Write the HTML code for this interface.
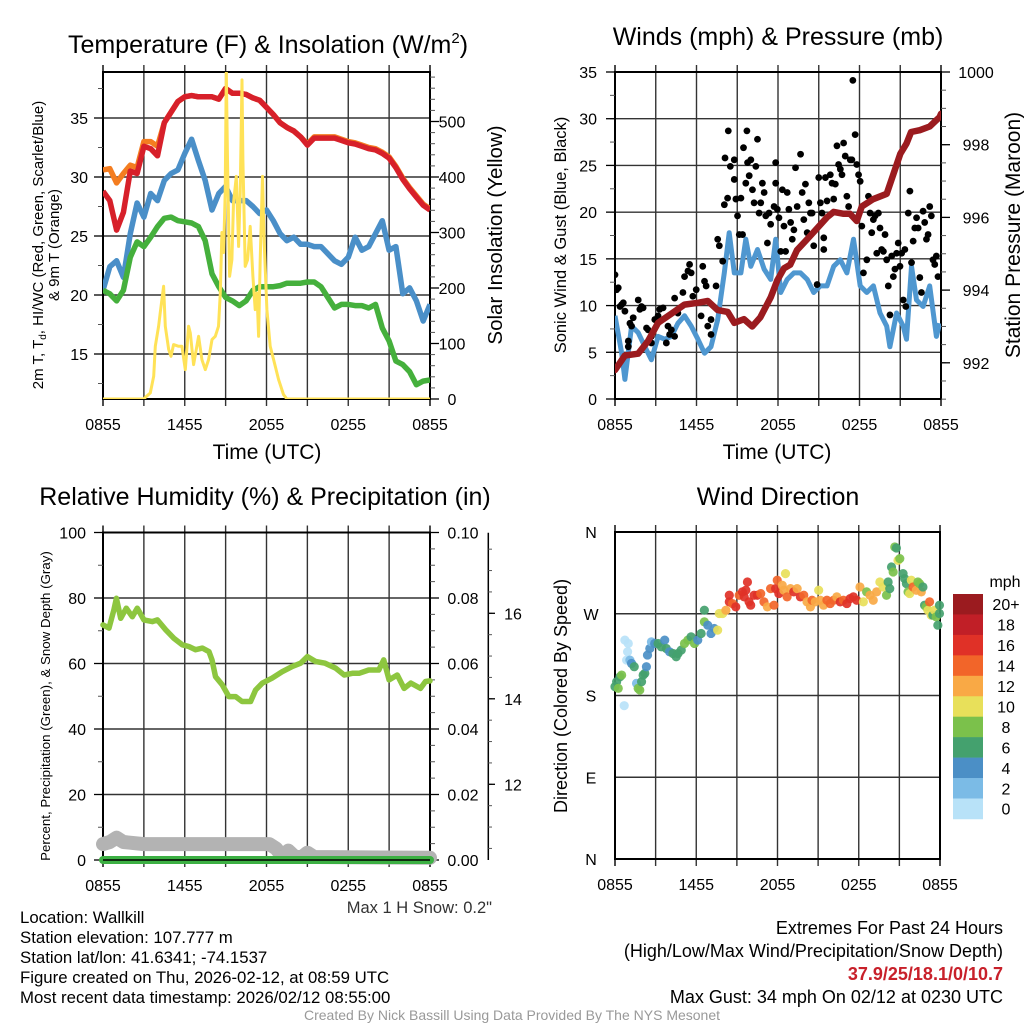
<!DOCTYPE html>
<html><head><meta charset="utf-8"><title>Wallkill Mesonet Meteogram</title>
<style>
html,body{margin:0;padding:0;background:#fff;}
svg{display:block;font-family:"Liberation Sans",Arial,sans-serif;}
</style></head>
<body>
<svg id="chart" width="1024" height="1024" viewBox="0 0 1024 1024" xmlns="http://www.w3.org/2000/svg">
<rect x="0" y="0" width="1024" height="1024" fill="#fff"/>
<defs>
<clipPath id="c1"><rect x="103" y="72" width="327" height="327"/></clipPath>
<clipPath id="c2"><rect x="615" y="72" width="326" height="327"/></clipPath>
<clipPath id="c3"><rect x="95" y="532" width="345" height="335"/></clipPath>
<clipPath id="c4"><rect x="608" y="525" width="340" height="340"/></clipPath>
</defs>
<text x="268" y="53" font-size="25" text-anchor="middle">Temperature (F) &amp; Insolation (W/m<tspan font-size="15" dy="-10">2</tspan><tspan dy="10">)</tspan></text>
<text x="778" y="45" font-size="25" text-anchor="middle">Winds (mph) &amp; Pressure (mb)</text>
<text x="265" y="505" font-size="25" text-anchor="middle">Relative Humidity (%) &amp; Precipitation (in)</text>
<text x="778" y="505" font-size="25" text-anchor="middle">Wind Direction</text>

<text font-size="15" text-anchor="middle" transform="translate(43,245) rotate(-90)">2m T, T<tspan font-size="10" dy="3">d</tspan><tspan dy="-3">, HI/WC (Red, Green, Scarlet/Blue)</tspan></text>
<text font-size="15" text-anchor="middle" transform="translate(59,245) rotate(-90)">&amp; 9m T (Orange)</text>
<text font-size="20.5" text-anchor="middle" transform="translate(502,235) rotate(-90)">Solar Insolation (Yellow)</text>
<text font-size="16.5" text-anchor="middle" transform="translate(566,235) rotate(-90)">Sonic Wind &amp; Gust (Blue, Black)</text>
<text font-size="21" text-anchor="middle" transform="translate(1020,235) rotate(-90)">Station Pressure (Maroon)</text>
<text font-size="13.3" text-anchor="middle" transform="translate(50,706) rotate(-90)">Percent, Precipitation (Green), &amp; Snow Depth (Gray)</text>
<text font-size="18" text-anchor="middle" transform="translate(567,696) rotate(-90)">Direction (Colored By Speed)</text>
<text x="267" y="459" font-size="21" text-anchor="middle">Time (UTC)</text>
<text x="777" y="459" font-size="21" text-anchor="middle">Time (UTC)</text>

<text x="492" y="913" font-size="16.5" text-anchor="end" fill="#333">Max 1 H Snow: 0.2"</text>
<g font-size="16.8" fill="#000">
<text x="20" y="923">Location: Wallkill</text>
<text x="20" y="943">Station elevation: 107.777 m</text>
<text x="20" y="963">Station lat/lon: 41.6341; -74.1537</text>
<text x="20" y="983">Figure created on Thu, 2026-02-12, at 08:59 UTC</text>
<text x="20" y="1003">Most recent data timestamp: 2026/02/12 08:55:00</text>
</g>
<g font-size="18" text-anchor="end">
<text x="1003" y="934">Extremes For Past 24 Hours</text>
<text x="1003" y="957">(High/Low/Max Wind/Precipitation/Snow Depth)</text>
<text x="1003" y="980" fill="#c8202a" font-weight="bold">37.9/25/18.1/0/10.7</text>
<text x="1003" y="1003">Max Gust: 34 mph On 02/12 at 0230 UTC</text>
</g>
<text x="512" y="1020" font-size="14" text-anchor="middle" fill="#999">Created By Nick Bassill Using Data Provided By The NYS Mesonet</text>
<g id="root"></g>
</svg>
<script>
// ---------- data ----------
const xTickHours = [0, 6, 12, 18, 24];
const xTickLabels = ['0855', '1455', '2055', '0255', '0855'];
const tempHours = [0,0.5,1,1.5,2,2.5,3,3.5,4,4.5,5,5.5,6,6.5,7,7.5,8,8.5,9,9.5,10,10.5,11,11.5,12,12.5,13,13.5,14,14.5,15,15.5,16,16.5,17,17.5,18,18.5,19,19.5,20,20.5,21,21.5,22,22.5,23,23.5,24];
const redTemp = [28.8,28.0,25.5,27.0,30.5,30.3,32.6,32.4,31.8,34.6,35.5,36.4,36.8,36.9,36.8,36.8,36.8,36.6,37.5,37.1,37.1,37.0,36.7,36.5,35.9,35.3,34.6,34.2,33.9,33.4,32.7,33.3,33.3,33.3,33.3,33.1,32.9,32.8,32.6,32.4,32.3,32.0,31.6,30.8,29.8,29.0,28.3,27.6,27.2];
const orangeTemp = [30.6,30.7,29.5,30.3,31.0,30.8,33.0,33.0,32.6,34.6,35.5,36.4,36.8,36.9,36.8,36.8,36.8,36.6,37.5,37.1,37.1,37.0,36.7,36.5,35.9,35.3,34.6,34.2,33.9,33.4,32.8,33.4,33.4,33.4,33.4,33.2,33.0,32.9,32.7,32.5,32.4,32.1,31.7,30.9,29.9,29.1,28.4,27.7,27.3];
const blueDew = [20.4,22.4,22.9,21.5,25.2,27.8,26.6,28.6,28.0,29.7,30.3,30.6,32.0,33.2,31.4,29.7,27.2,28.6,29.2,28.0,28.0,28.0,27.5,26.9,27.2,26.3,25.2,24.6,24.9,24.3,24.3,24.1,24.1,23.5,22.9,22.6,23.2,24.9,23.8,24.1,25.2,26.3,23.8,24.1,20.1,20.6,19.5,17.8,19.2];
const greenTemp = [20.4,20.1,19.5,20.4,23.2,24.5,24.1,24.9,25.8,26.5,26.6,26.3,26.2,26.1,25.8,24.6,21.8,20.7,19.8,19.5,19.1,19.5,20.4,20.7,20.7,20.7,20.8,21.0,21.0,21.0,21.1,21.1,20.7,19.8,18.9,19.2,19.2,19.1,19.1,18.9,19.2,17.2,16.1,14.4,14.1,13.5,12.4,12.7,12.8];
const solarHours = [0,2.98,3.47,3.72,3.84,4.08,4.2,4.45,4.57,4.82,4.99,5.18,5.55,5.79,6.04,6.28,6.41,6.65,7.02,7.26,7.51,7.75,8.0,8.24,8.48,8.61,8.73,8.85,8.97,9.05,9.14,9.29,9.46,9.58,9.78,9.95,10.07,10.2,10.27,10.44,10.61,10.8,11.0,11.17,11.3,11.42,11.54,11.71,11.83,12.03,12.27,12.52,12.89,13.25,13.5,24];
const solarWm2 = [0,0,11,41,95,131,155,203,131,89,77,98,95,95,53,131,119,62,113,71,53,71,107,113,131,191,300,264,372,590,431,221,251,353,401,275,372,575,431,239,251,311,221,161,191,113,251,401,281,161,95,71,35,8,0,0];
const windHours = [0,0.49,0.73,1.22,1.71,2.2,2.68,3.17,3.66,4.15,4.63,5.12,5.61,6.1,6.59,7.07,7.56,8.05,8.41,8.78,9.27,9.63,10.0,10.49,10.98,11.46,11.83,12.2,12.68,13.17,13.66,14.15,14.63,15.12,15.61,16.1,16.59,17.07,17.56,18.05,18.54,19.02,19.51,20.0,20.24,20.73,21.22,21.46,21.83,22.2,22.68,23.17,23.66,23.9];
const windMph = [8.9,4.9,2.1,7.8,7.1,5.6,4.2,6.7,6.4,6.7,8.1,8.9,7.8,6.4,4.9,5.6,8.5,13.5,17.8,13.5,13.5,17.1,14.2,16,13.9,12.8,17.1,11.4,12.8,13.5,13.5,12.8,11.4,12.1,12.1,14.2,14.9,13.5,17.1,12.1,11.4,12.1,9.2,7.8,5.6,9.2,7.8,6.4,14.2,10.6,9.9,12.1,6.7,8.1];
const gustHours = [0,0.12,0.24,0.37,0.61,0.49,0.73,1.1,1.22,0.98,0.98,1.34,1.71,1.83,2.07,1.95,2.32,2.44,2.68,2.68,2.93,3.17,3.29,3.54,3.9,4.15,4.39,3.78,4.02,4.39,4.63,5.0,5.12,5.37,5.49,5.61,5.73,5.98,6.34,6.46,6.59,6.71,6.83,7.07,7.07,7.44,7.56,7.68,7.93,8.05,8.1,8.29,8.34,8.49,8.78,8.78,8.9,9.02,9.15,9.27,9.39,9.46,9.63,9.71,9.76,9.88,10.0,10.12,10.24,10.37,10.49,10.61,10.73,10.85,10.98,11.1,11.22,11.34,11.46,11.71,11.83,11.83,11.95,12.07,12.2,12.32,12.44,12.56,12.68,12.8,12.93,13.05,13.17,13.29,13.41,13.66,13.78,13.9,14.02,14.15,14.27,14.39,14.51,14.63,14.88,15.0,15.12,15.24,15.37,15.37,15.49,15.61,15.85,15.98,16.1,16.22,16.34,16.46,16.59,16.71,16.83,16.95,17.07,17.2,17.32,17.44,17.51,17.68,17.8,17.93,18.05,18.17,18.29,18.54,18.66,18.78,18.9,19.02,19.15,19.27,19.39,19.51,19.63,19.76,19.88,20.0,20.12,20.24,20.37,20.49,20.61,20.73,20.85,20.98,21.1,21.22,21.34,21.41,21.59,21.71,21.83,21.95,22.07,22.2,22.32,22.44,22.56,22.68,22.8,22.93,23.05,23.17,23.29,23.41,23.54,23.66,23.78];
const gustMph = [13.3,11.7,11.9,9.9,10.3,10.1,9.4,8.1,7.8,6.2,5.6,8.7,10.6,9.6,9.75,9.9,7.6,7.4,6.7,6.0,8.5,8.9,9.6,9.75,7.8,7.4,6.7,6.0,6.9,10.8,9.2,11.4,13.1,13.7,14.4,13.5,11.0,11.7,8.9,14.2,12.6,12.1,7.8,6.9,8.5,12.1,17.1,16.4,14.75,20.8,25.8,21.5,28.7,24.9,25.6,23.5,21.4,19.6,17.6,21.5,17.6,26.9,23.1,28.7,25.3,23.9,25.6,22.4,21.0,24.9,27.8,19.9,21.0,23.1,22.1,19.6,16.7,19.9,18.7,20.6,25.3,23.1,20.3,19.4,15.8,22.4,18.5,15.8,22.1,20.3,18.9,17.1,18.1,24.75,20.6,26.2,22.1,19.2,23.0,17.8,21.0,19.9,19.9,16.4,12.25,23.7,21.0,19.9,17.25,16.0,23.7,21.2,24.0,23.1,21.4,23.0,27.1,25.1,24.6,24.0,27.4,26.0,21.7,20.6,25.6,25.6,34.1,28.3,25.1,24.0,23.3,18.5,13.5,14.9,21.7,19.9,17.8,19.2,19.6,15.6,19.9,18.3,16.0,15.8,17.6,14.9,12.1,9.0,15.3,13.1,13.9,15.6,16.7,14.2,15.6,10.6,16.0,9.9,19.9,22.25,14.6,16.9,18.3,19.4,18.3,13.0,11.4,20.1,18.9,17.1,17.6,20.6,19.6,14.9,14.4,15.3,13.1];
const presHours = [0,0.73,1.7,2.44,3.17,4.15,5.12,6.1,6.83,7.56,8.3,8.78,9.5,10.1,10.7,11.46,11.95,12.44,12.9,13.4,14.15,14.88,15.6,16.1,16.83,17.3,17.8,18.17,19.0,20.0,20.5,21.0,21.46,21.8,22.44,23.17,23.9,24];
const presMb = [991.8,992.2,992.25,992.6,993.1,993.35,993.6,993.65,993.7,993.45,993.4,993.1,993.2,993.0,993.25,993.8,994.27,994.6,994.7,995.1,995.4,995.7,996.0,996.15,996.1,996.1,995.9,996.3,996.5,996.65,997.2,997.75,998.03,998.35,998.4,998.5,998.76,998.85];
const rhHours = [0,0.44,0.8,0.98,1.3,1.71,2.15,2.52,3.0,3.62,3.99,4.6,5.2,5.82,6.3,6.8,7.3,7.78,8.0,8.26,8.75,9.24,9.73,10.2,10.83,11.2,11.7,12.4,13.15,13.9,14.5,15.0,15.6,16.3,17.07,17.7,18.3,18.8,19.5,20.24,20.6,21.0,21.6,22.1,22.6,23.3,23.67,24.0];
const rhPct = [71.8,70.8,76.4,79.9,73.8,76.9,74.3,76.9,73.3,72.8,73.3,70.3,67.7,65.7,65.2,64.2,64.7,63.6,61.1,56.0,53.5,49.9,49.9,48.4,48.4,51.9,54.0,55.5,57.5,59.1,60.1,62.1,60.6,60.1,58.6,56.5,57.0,57.0,58.0,58.0,61.1,55.0,56.5,52.4,54.0,52.4,54.5,54.7];
const snowHours = [0,0.5,1.0,1.5,3,6,9,12.2,12.7,13.2,13.6,14.1,14.6,15.0,15.5,24];
const snowDepth = [10.6,10.65,10.75,10.65,10.6,10.6,10.6,10.6,10.5,10.3,10.45,10.3,10.3,10.4,10.3,10.28];
const precipHours = [0, 24];
const precipIn = [0, 0];
const dirHours = [0,0.12,0.24,0.37,0.49,0.68,0.73,0.98,0.93,0.86,1.1,1.22,1.42,1.59,1.71,1.83,1.96,2.08,2.2,2.32,2.4,2.57,2.69,2.93,3.18,3.42,3.67,3.79,4.03,4.28,4.52,4.65,4.89,5.13,5.38,5.62,5.87,6.11,6.36,6.6,6.6,6.85,7.09,7.33,7.58,7.7,7.95,8.19,8.44,8.44,8.68,8.92,9.17,9.41,9.54,9.66,9.78,9.9,10.02,10.27,10.51,10.76,11.0,11.25,11.49,11.74,11.86,11.98,12.1,12.35,12.47,12.59,12.71,12.96,13.2,13.45,13.69,13.94,14.18,14.43,14.55,14.79,15.04,15.16,15.4,15.65,15.89,16.14,16.38,16.63,16.87,17.12,17.36,17.6,17.85,18.09,18.34,18.58,18.83,19.07,19.32,19.56,19.8,20.05,20.17,20.29,20.42,20.54,20.66,20.78,20.9,21.03,21.27,21.39,21.52,21.64,21.76,21.88,22.01,22.25,22.37,22.49,22.62,22.74,22.86,22.98,23.11,23.23,23.35,23.47,23.59,23.72,23.84,23.96,23.96];
const dirDeg = [189.7,195.2,187.9,200.7,202.5,168.8,241,237.3,228.1,219,219,215.3,211.7,193.4,187.9,186,195.2,202.5,204.3,211.7,224.5,231.8,239.1,237.3,237.3,233.6,241,231.8,228.1,226.3,222.6,226.3,230,237.3,241,244.6,237.3,241,248.3,261.1,273.9,257.4,248.3,253.8,252,270.3,270.3,273.9,283.1,290.4,281.2,277.6,290.4,294.1,288.6,295.9,305,283.1,279.4,290.4,290.4,292.2,283.1,277.6,297.7,279.4,297.7,306.9,292.2,301.4,295.9,314.2,288.6,297.7,294.1,297.7,288.6,290.4,283.1,277.6,284.9,283.1,295.9,284.9,279.4,284.9,281.2,284.9,288.6,283.1,284.9,281.2,286.7,288.6,284.9,299.5,283.1,294.1,290.4,284.9,294.1,305,299.5,290.4,305,297.7,321.5,316,343.5,342.4,328.8,330.7,314.2,308.7,303.2,294.1,292.2,306.9,299.5,295.9,305,303.2,294.1,299.5,279.4,277.6,273.9,283.1,268.4,268.4,273.9,266.6,257.4,270.3,279.4];
const dirSpeed = [7,6,8,6,8,1,1,1,1,1,3,4,6,3,8,8,6,6,6,4,4,4,3,5,6,7,4,6,4,6,6,6,7,8,8,6,8,5,6,8,6,4,4,4,10,10,11,13,17,16,15,16,14,16,17,17,17,16,17,16,17,14,15,13,14,15,16,15,17,12,13,10,15,12,16,13,16,15,13,12,14,13,10,13,12,14,15,14,13,17,14,17,17,16,17,13,10,8,12,12,13,10,10,8,6,6,6,8,8,6,10,9,6,6,6,8,10,11,14,13,8,8,13,7,6,8,10,15,10,6,10,8,6,6,7];
const speedLabels = ['0','2','4','6','8','10','12','14','16','18','20+'];
const speedColors = ['#b8e2f8','#7bbbe6','#4b8fc6','#44a16e','#7bc14b','#e8e05a','#f9a945','#f26529','#e03127','#c11f27','#9b1b1f'];

// ---------- helpers ----------
const NS = 'http://www.w3.org/2000/svg';
const root = document.getElementById('root');
function mk(tag, attrs, parent) {
  const e = document.createElementNS(NS, tag);
  for (const k in attrs) e.setAttribute(k, attrs[k]);
  (parent || root).appendChild(e);
  return e;
}
function mkGroup(name, parent) {
  const g = mk('g', {}, parent);
  
  
  return g;
}
function pathD(xs, ys, xf, yf) {
  let d = '';
  for (let i = 0; i < xs.length; i++) d += (i ? 'L' : 'M') + xf(xs[i]).toFixed(1) + ',' + yf(ys[i]).toFixed(1);
  return d;
}

const P1 = {x0:103, x1:430, y0:72, y1:399};
const P2 = {x0:615, x1:941, y0:72, y1:399};
const P3 = {x0:103, x1:430, y0:532.5, y1:860};
const P4 = {x0:615, x1:940, y0:532, y1:859};
function xScale(P) { return h => P.x0 + h / 24 * (P.x1 - P.x0); }

const y1L = v => 118 + (35 - v) * 11.8;
const y1R = w => 399 - w * 0.555;
const y2L = v => 399 - v * 9.343;
const y2R = p => 72 + (1000 - p) * 36.35;
const y3L = r => 860 - r * 3.275;
const y3R = p => 860 - p * 3275;
const y3S = s => 784.3 - (s - 12) * 42.75;
const y4 = d => 859 - d / 360 * 327;

function frame(P, name, hLines) {
  const g = mkGroup(name + '-grid');
  const xs = xScale(P);
  for (let h = 3; h < 24; h += 3) {
    const l = mk('line', {x1:xs(h), x2:xs(h), y1:P.y0 - 7, y2:P.y1 + 7, stroke:'#333', 'stroke-width':1.4}, g);
    
    
  }
  hLines.forEach(y => {
    const l = mk('line', {x1:P.x0, x2:P.x1, y1:y, y2:y, stroke:'#333', 'stroke-width':1.4}, g);
    
    
  });
  [0, 24].forEach(h => {
    mk('line', {x1:xs(h), x2:xs(h), y1:P.y1, y2:P.y1 + 7, stroke:'#000', 'stroke-width':1.4}, g);
    mk('line', {x1:xs(h), x2:xs(h), y1:P.y0, y2:P.y0 - 7, stroke:'#000', 'stroke-width':1.4}, g);
  });
  const r = mk('rect', {x:P.x0, y:P.y0, width:P.x1 - P.x0, height:P.y1 - P.y0, fill:'none', stroke:'#000', 'stroke-width':2}, g);
  
  
  const tg = mkGroup(name + '-x-tick-labels');
  xTickHours.forEach((h, i) => {
    const t = mk('text', {x:xs(h), y:P.y1 + 31, 'font-size':16, 'text-anchor':'middle'}, tg);
    t.textContent = xTickLabels[i];
    
    
  });
}
function yAxis(name, x, side, majors, labels, minors, yf, labelX, anchor) {
  const g = mkGroup(name);
  const dir = side === 'left' ? -1 : 1;
  minors.forEach(v => mk('line', {x1:x, x2:x + dir * 5, y1:yf(v), y2:yf(v), stroke:'#555', 'stroke-width':1}, g));
  majors.forEach((v, i) => {
    mk('line', {x1:x, x2:x + dir * 9, y1:yf(v), y2:yf(v), stroke:'#000', 'stroke-width':1.3}, g);
    const t = mk('text', {x:labelX, y:yf(v) + 6, 'font-size':16, 'text-anchor':anchor}, g);
    t.textContent = labels[i];
    
    
  });
}
function range(a, b, s) { const r = []; for (let v = a; v <= b + 1e-9; v += s) r.push(+v.toFixed(4)); return r; }

// ---------- panel 1 ----------
frame(P1, 'temp', [35,30,25,20,15].map(y1L));
yAxis('temp-left-axis', P1.x0, 'left', [15,20,25,30,35], ['15','20','25','30','35'], range(12.5,37.5,2.5), y1L, 88, 'end');
yAxis('solar-right-axis', P1.x1, 'right', [0,100,200,300,400,500], ['0','100','200','300','400','500'], range(0,580,20), y1R, 452, 'middle');
{
  const g = mkGroup('temp-series');
  g.setAttribute('clip-path', 'url(#c1)');
  const xs = xScale(P1);
  const o = mk('path', {d:pathD(tempHours, orangeTemp, xs, y1L), fill:'none', stroke:'#f47d20', 'stroke-width':5.5, 'stroke-linejoin':'round'}, g);
  
  
  const r = mk('path', {d:pathD(tempHours, redTemp, xs, y1L), fill:'none', stroke:'#d7202a', 'stroke-width':5.5, 'stroke-linejoin':'round'}, g);
  
  
  const b = mk('path', {d:pathD(tempHours, blueDew, xs, y1L), fill:'none', stroke:'#4a8fc8', 'stroke-width':5.5, 'stroke-linejoin':'round'}, g);
  
  
  const gr = mk('path', {d:pathD(tempHours, greenTemp, xs, y1L), fill:'none', stroke:'#45b03c', 'stroke-width':5.5, 'stroke-linejoin':'round'}, g);
  
  
  const y = mk('path', {d:pathD(solarHours, solarWm2, xs, y1R), fill:'none', stroke:'#ffe257', 'stroke-width':3, 'stroke-linejoin':'round'}, g);
  
  
}

// ---------- panel 2 ----------
frame(P2, 'wind', [30,25,20,15,10,5].map(y2L));
yAxis('wind-left-axis', P2.x0, 'left', [0,5,10,15,20,25,30,35], ['0','5','10','15','20','25','30','35'], range(0,35,2.5), y2L, 597, 'end');
yAxis('pressure-right-axis', P2.x1, 'right', [992,994,996,998,1000], ['992','994','996','998','1000'], range(991,1000,0.5), y2R, 976, 'middle');
{
  const g = mkGroup('wind-series');
  g.setAttribute('clip-path', 'url(#c2)');
  const xs = xScale(P2);
  const w = mk('path', {d:pathD(windHours, windMph, xs, y2L), fill:'none', stroke:'#4f97d0', 'stroke-width':5, 'stroke-linejoin':'round'}, g);
  
  
  const dg = mkGroup('gust-points', g);
  gustHours.forEach((h, i) => {
    const c = mk('circle', {cx:xs(h), cy:y2L(gustMph[i]), r:3.4, fill:'#000'}, dg);
    
    
  });
  const p = mk('path', {d:pathD(presHours, presMb, xs, y2R), fill:'none', stroke:'#9b1b1f', 'stroke-width':6.5, 'stroke-linejoin':'round', 'stroke-linecap':'round'}, g);
  
  
}

// ---------- panel 3 ----------
frame(P3, 'rh', [80,60,40,20].map(y3L));
yAxis('rh-left-axis', P3.x0, 'left', [0,20,40,60,80,100], ['0','20','40','60','80','100'], range(0,100,10), y3L, 86, 'end');
yAxis('precip-right-axis', P3.x1, 'right', [0,0.02,0.04,0.06,0.08,0.10], ['0.00','0.02','0.04','0.06','0.08','0.10'], range(0,0.1,0.005), y3R, 463, 'middle');
{
  const g = mkGroup('snow-depth-axis');
  mk('line', {x1:488.3, x2:488.3, y1:532.7, y2:860, stroke:'#000', 'stroke-width':1.5}, g);
  range(10.5, 17.5, 0.5).forEach(v => { if (y3S(v) >= 533 && y3S(v) <= 859) mk('line', {x1:488.3, x2:492, y1:y3S(v), y2:y3S(v), stroke:'#555', 'stroke-width':1}, g); });
  [12,14,16].forEach(v => {
    mk('line', {x1:488.3, x2:495, y1:y3S(v), y2:y3S(v), stroke:'#000', 'stroke-width':1.3}, g);
    const t = mk('text', {x:513, y:y3S(v) + 6, 'font-size':16, 'text-anchor':'middle'}, g);
    t.textContent = String(v);
    
    
  });
}
{
  const g = mkGroup('rh-series');
  g.setAttribute('clip-path', 'url(#c3)');
  const xs = xScale(P3);
  const s = mk('path', {d:pathD(snowHours, snowDepth, xs, y3S), fill:'none', stroke:'#b3b3b3', 'stroke-width':14, 'stroke-linejoin':'round', 'stroke-linecap':'round'}, g);
  
  
  const p = mk('path', {d:pathD(precipHours, precipIn, xs, y3R), fill:'none', stroke:'#3cb043', 'stroke-width':8, 'stroke-linecap':'round'}, g);
  
  
  mk('line', {x1:P3.x0, x2:P3.x1, y1:860, y2:860, stroke:'#000', 'stroke-width':1.5}, g);
  const r = mk('path', {d:pathD(rhHours, rhPct, xs, y3L), fill:'none', stroke:'#8dc63f', 'stroke-width':5.5, 'stroke-linejoin':'round', 'stroke-linecap':'round'}, g);
  
  
}

// ---------- panel 4 ----------
frame(P4, 'direction', [270,180,90].map(y4));
{
  const g = mkGroup('direction-y-axis');
  const lab = ['N','E','S','W','N'];
  [0,90,180,270,360].forEach((d, i) => {
    const t = mk('text', {x:591, y:y4(d) + 6, 'font-size':16, 'text-anchor':'middle'}, g);
    t.textContent = lab[i];
    
    
  });
}
{
  const g = mkGroup('direction-points');
  g.setAttribute('clip-path', 'url(#c4)');
  const xs = xScale(P4);
  dirHours.forEach((h, i) => {
    const k = Math.min(10, Math.floor(dirSpeed[i] / 2));
    const c = mk('circle', {cx:xs(h), cy:y4(dirDeg[i]), r:4.6, fill:speedColors[k], 'fill-opacity':0.92}, g);
    
    
  });
}
{
  const g = mkGroup('speed-colorbar');
  const t0 = mk('text', {x:1005, y:587, 'font-size':16, 'text-anchor':'middle'}, g);
  t0.textContent = 'mph';
  const top = 594, bh = 20.45;
  speedLabels.forEach((lbl, i) => {
    const j = speedLabels.length - 1 - i;
    const r = mk('rect', {x:953, y:top + i * bh, width:30, height:bh + 0.3, fill:speedColors[j]}, g);
    
    
    const t = mk('text', {x:1006, y:top + i * bh + bh / 2 + 6, 'font-size':16, 'text-anchor':'middle'}, g);
    t.textContent = speedLabels[j];
    
    
  });
}
</script>
</body></html>
